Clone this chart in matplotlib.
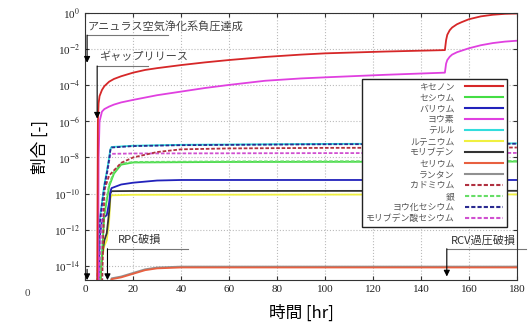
import numpy as np
import matplotlib.pyplot as plt
from matplotlib.lines import Line2D

plt.rcParams['font.family'] = ['Liberation Serif', 'Noto Sans CJK JP']
plt.rcParams['mathtext.fontset'] = 'stix'

# values are log10 of the fraction
t_xe = [5.0, 5.3, 5.6, 6, 7, 8, 10, 12, 15, 20, 25, 30, 40, 50, 60, 75, 90, 100, 125, 150,
        150.5, 151, 152, 153, 155, 157, 160, 165, 170, 175, 180]
xe = [-15.5, -6.0, -5.0, -4.6, -4.26, -4.05, -3.8, -3.65, -3.5, -3.3, -3.15, -3.05, -2.88, -2.73, -2.6,
      -2.43, -2.3, -2.23, -2.13, -2.05, -1.5, -1.2, -0.95, -0.8, -0.62, -0.5, -0.34, -0.18, -0.09, -0.04, -0.02]

t_iod = [5.4, 5.6, 6, 7, 8, 10, 12, 15, 20, 25, 30, 40, 50, 60, 75, 90, 100, 125, 150,
         150.5, 151, 152, 153, 155, 157, 160, 165, 170, 175, 180]
iod = [-15.5, -8.0, -6.0, -5.46, -5.32, -5.18, -5.07, -4.95, -4.81, -4.68, -4.55, -4.35, -4.15, -3.98,
       -3.75, -3.62, -3.56, -3.42, -3.3, -2.8, -2.6, -2.42, -2.3, -2.17, -2.08, -1.95, -1.78, -1.66, -1.58, -1.53]

t_te = [5.0, 5.5, 6, 7, 8, 9, 10, 10.5, 11, 20, 40, 100, 180]
te = [-15.5, -13.0, -11.5, -10.5, -9.5, -8.8, -8.0, -7.55, -7.42, -7.35, -7.3, -7.25, -7.22]
csi = [-15.5, -13.2, -11.7, -10.6, -9.6, -8.9, -8.1, -7.6, -7.45, -7.37, -7.32, -7.27, -7.24]

t_cd = [7, 8, 10, 15, 20, 30, 40, 60, 100, 180]
cd = [-15.5, -9.8, -9.0, -8.3, -8.0, -7.7, -7.55, -7.5, -7.47, -7.45]

t_csmo = [5.5, 7, 9, 10, 10.5, 11, 20, 100, 180]
csmo = [-15.5, -11.0, -9.0, -8.2, -7.85, -7.8, -7.78, -7.76, -7.75]

t_ag = [6, 8, 10, 12, 15, 20, 60, 180]
ag = [-15.5, -11.0, -9.5, -8.8, -8.35, -8.25, -8.22, -8.2]
cs = [-15.5, -11.2, -9.6, -8.9, -8.4, -8.28, -8.25, -8.23]

t_ba = [5.5, 6, 7, 8, 9, 10, 10.5, 11, 15, 20, 30, 40, 180]
ba = [-15.5, -12.5, -11.5, -11.3, -11.2, -10.5, -9.9, -9.7, -9.5, -9.4, -9.28, -9.25, -9.25]

t_mo = [6, 7, 8, 9, 10, 10.5, 11, 20, 180]
mo = [-15.5, -13.5, -12.6, -12.2, -11.0, -10.0, -9.87, -9.86, -9.85]
ru = [-15.5, -13.6, -12.9, -12.6, -11.5, -10.3, -10.1, -10.07, -10.05]

t_la = [10, 11, 15, 20, 25, 30, 40, 180]
la = [-15.5, -14.7, -14.6, -14.4, -14.2, -14.1, -14.05, -14.05]
ce = [-15.5, -14.75, -14.65, -14.45, -14.25, -14.15, -14.1, -14.1]

labels = ['キセノン', 'セシウム', 'バリウム', 'ヨウ素', 'テルル', 'ルテニウム', 'モリブデン',
          'セリウム', 'ランタン', 'カドミウム', '銀', 'ヨウ化セシウム', 'モリブデン酸セシウム']
colors = ['#d62728', '#44dd44', '#2222bb', '#e040e0', '#33dddd', '#f0f040', '#333333',
          '#e86040', '#909090', '#b03040', '#66dd66', '#2a2a90', '#d050d0']
styles = ['-'] * 9 + ['--'] * 4

series = [(t_xe, xe), (t_ag, cs), (t_ba, ba), (t_iod, iod), (t_te, te), (t_mo, ru), (t_mo, mo),
          (t_la, ce), (t_la, la), (t_cd, cd), (t_ag, ag), (t_te, csi), (t_csmo, csmo)]

fig = plt.figure(figsize=(5.29, 3.28), dpi=100)
ax = fig.add_axes([0.161, 0.146, 0.816, 0.814])

draw_order = [8, 7, 5, 6, 2, 1, 10, 12, 9, 4, 11, 3, 0]
for i in draw_order:
    tt, vv = series[i]
    ax.plot(tt, 10.0 ** np.array(vv), color=colors[i], ls=styles[i], lw=1.3,
            dashes=(2, 1) if styles[i] == '--' else (None, None))

ax.set_yscale('log')
ax.set_xlim(0, 180)
ax.set_ylim(10 ** -14.8, 1.0)
ax.set_xticks(np.arange(0, 181, 20))
yt = [10.0 ** e for e in range(0, -15, -2)]
ax.set_yticks(yt)
ax.set_yticklabels(['10$^{%d}$' % e for e in range(0, -15, -2)])
ax.minorticks_off()
ax.tick_params(direction='in', top=True, right=True, labelsize=8, length=3, colors='#333333')
for lab in ax.get_xticklabels() + ax.get_yticklabels():
    lab.set_color('#222222')
ax.grid(True, ls=':', color='#bbbbbb', lw=0.8)
for s in ax.spines.values():
    s.set_color('#333333')

ax.set_xlabel('時間 [hr]', fontsize=12, family=['Noto Sans CJK JP'], labelpad=8)
ax.set_ylabel('割合 [-]', fontsize=12, family=['Noto Sans CJK JP'], labelpad=4)

# annotations
gray = '#777777'
jp = ['Noto Sans CJK JP']
arrow = dict(arrowstyle='-|>', color='black', lw=0.8, mutation_scale=9, shrinkA=0, shrinkB=0)

ax.text(1.2, 10 ** -0.72, 'アニュラス空気浄化系負圧達成', fontsize=8, family=jp, color='#444444', va='center')
ax.plot([0.8, 34.6], [10 ** -1.22] * 2, color=gray, lw=0.8)
ax.annotate('', xy=(0.8, 10 ** -2.75), xytext=(0.8, 10 ** -1.22), arrowprops=arrow)

ax.text(5.6, 10 ** -2.43, 'ギャップリリース', fontsize=8, family=jp, color='#444444', va='center')
ax.plot([5.0, 26], [10 ** -2.93] * 2, color=gray, lw=0.8)
ax.annotate('', xy=(5.0, 10 ** -5.85), xytext=(5.0, 10 ** -2.93), arrowprops=arrow)

ax.text(13.5, 10 ** -12.6, 'RPC破損', fontsize=8, family=jp, color='#333333', va='center')
ax.plot([9.3, 43], [10 ** -13.06] * 2, color=gray, lw=0.8)
ax.annotate('', xy=(9.3, 10 ** -14.8), xytext=(9.3, 10 ** -13.06), arrowprops=arrow)

ax.text(179.5, 10 ** -12.6, 'RCV過圧破損', fontsize=8, family=jp, color='#333333', va='center', ha='right')
ax.plot([150.8, 184], [10 ** -13.06] * 2, color=gray, lw=0.8, clip_on=False)
ax.annotate('', xy=(150.8, 10 ** -14.6), xytext=(150.8, 10 ** -13.06), arrowprops=arrow)

ax.annotate('', xy=(0.8, 10 ** -14.8), xytext=(0.8, 10 ** -14.2), arrowprops=arrow)

fig.text(27 / 529, 1 - 293 / 328, '0', fontsize=8, color='#444444', ha='center', va='center')

handles = [Line2D([], [], color=colors[i], ls=styles[i], lw=1.5,
                  dashes=(2, 1) if styles[i] == '--' else (None, None)) for i in range(13)]
leg = ax.legend(handles, labels, loc='upper left', bbox_to_anchor=(0.641, 0.755),
                markerfirst=False, prop={'family': jp, 'size': 6.4},
                frameon=True, fancybox=False, edgecolor='#222222', framealpha=1,
                handlelength=4.2, labelspacing=0.22, borderpad=0.45, handletextpad=1.2,
                borderaxespad=0)
leg.get_frame().set_linewidth(1.0)
for txt in leg.get_texts():
    txt.set_color('#555555')

fig.savefig('out.png', dpi=100)
